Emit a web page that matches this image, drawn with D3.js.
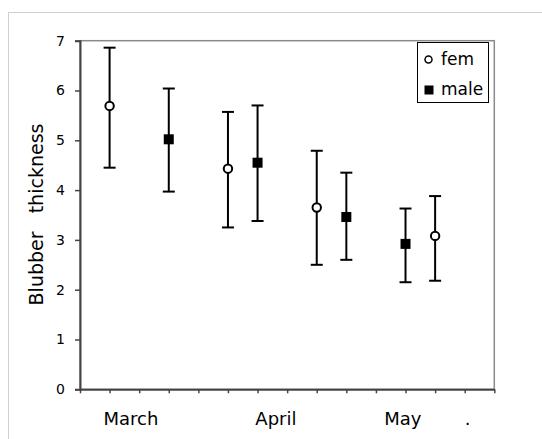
<!DOCTYPE html>
<html><head><meta charset="utf-8">
<script src="https://cdn.jsdelivr.net/npm/d3@7"></script>
<style>body{margin:0;background:#fff}svg{display:block}text{font-family:"DejaVu Sans",sans-serif}</style>
</head><body><svg id="c" width="542" height="439"></svg>
<script>
const femX = [1, 5, 8, 12];
const femMean = [5.69, 4.43, 3.65, 3.08];
const femUpper = [6.86, 5.57, 4.79, 3.88];
const femLower = [4.45, 3.25, 2.50, 2.18];
const maleX = [3, 6, 9, 11];
const maleMean = [5.02, 4.55, 3.46, 2.92];
const maleUpper = [6.04, 5.70, 4.35, 3.63];
const maleLower = [3.97, 3.38, 2.60, 2.15];
const monthLabels = ["March", "April", "May", "."];
const monthPos = [1.72, 6.62, 10.91, 13.1];
const yTicks = [0, 1, 2, 3, 4, 5, 6, 7];
const xTicks = d3.range(0, 15);

const svg = d3.select("#c");
const x = d3.scaleLinear().domain([0, 14]).range([80, 494.3]);
const y = d3.scaleLinear().domain([0, 7]).range([389.3, 40.7]);

// outer frame
svg.append("rect").attr("x", 8.5).attr("y", 12.5).attr("width", 600).attr("height", 600)
  .attr("fill", "none").attr("stroke", "#d0d0d0");

// plot area border
svg.append("rect").attr("x", x(0)).attr("y", y(7)).attr("width", x(14) - x(0)).attr("height", y(0) - y(7))
  .attr("fill", "none").attr("stroke", "#8a8a8a").attr("stroke-width", 1.5);

// axes
const yAxis = svg.append("g").attr("transform", `translate(${x(0)},0)`)
  .call(d3.axisLeft(y).tickValues(yTicks).tickFormat(d3.format("d")).tickSize(5).tickPadding(10));
yAxis.select(".domain").attr("stroke", "#444").attr("stroke-width", 2);
yAxis.selectAll(".tick line").attr("stroke", "#444").attr("stroke-width", 1.5);
yAxis.selectAll("text").attr("font-size", 14).attr("fill", "#000").attr("font-family", "DejaVu Sans");

const xAxis = svg.append("g").attr("transform", `translate(0,${y(0)})`)
  .call(d3.axisBottom(x).tickValues(xTicks).tickFormat("").tickSize(4).tickSizeOuter(0));
xAxis.select(".domain").attr("stroke", "#444").attr("stroke-width", 2);
xAxis.selectAll(".tick line").attr("stroke", "#444").attr("stroke-width", 1.5);

// month labels
svg.append("g").selectAll("text").data(monthLabels).join("text")
  .attr("x", (d, i) => x(monthPos[i])).attr("y", 425)
  .attr("text-anchor", "middle").attr("font-size", 18).text(d => d);

// y title
svg.append("text").attr("transform", `translate(43,214.5) rotate(-90)`)
  .attr("text-anchor", "middle").attr("font-size", 19).style("white-space", "pre")
  .text("Blubber   thickness");

// error bars
function bars(xs, lo, hi) {
  const g = svg.append("g").attr("stroke", "#000").attr("stroke-width", 2);
  xs.forEach((v, i) => {
    g.append("line").attr("x1", x(v)).attr("x2", x(v)).attr("y1", y(lo[i])).attr("y2", y(hi[i]));
    g.append("line").attr("x1", x(v) - 6).attr("x2", x(v) + 6).attr("y1", y(lo[i])).attr("y2", y(lo[i]));
    g.append("line").attr("x1", x(v) - 6).attr("x2", x(v) + 6).attr("y1", y(hi[i])).attr("y2", y(hi[i]));
  });
}
bars(femX, femLower, femUpper);
bars(maleX, maleLower, maleUpper);

svg.append("g").selectAll("circle").data(femMean).join("circle")
  .attr("cx", (d, i) => x(femX[i])).attr("cy", d => y(d)).attr("r", 4.2)
  .attr("fill", "#fff").attr("stroke", "#000").attr("stroke-width", 2);
svg.append("g").selectAll("rect").data(maleMean).join("rect")
  .attr("x", (d, i) => x(maleX[i]) - 5).attr("y", d => y(d) - 5).attr("width", 10).attr("height", 10)
  .attr("fill", "#000");

// legend
const lg = svg.append("g");
lg.append("rect").attr("x", 417.5).attr("y", 42.5).attr("width", 71).attr("height", 60)
  .attr("fill", "#fff").attr("stroke", "#000");
lg.append("circle").attr("cx", 428.5).attr("cy", 59.5).attr("r", 3.5)
  .attr("fill", "#fff").attr("stroke", "#000").attr("stroke-width", 1.5);
lg.append("rect").attr("x", 424.5).attr("y", 85.5).attr("width", 9).attr("height", 9).attr("fill", "#000");
lg.append("text").attr("x", 441).attr("y", 65).attr("font-size", 17).text("fem");
lg.append("text").attr("x", 441).attr("y", 95).attr("font-size", 17).text("male");
</script></body></html>
